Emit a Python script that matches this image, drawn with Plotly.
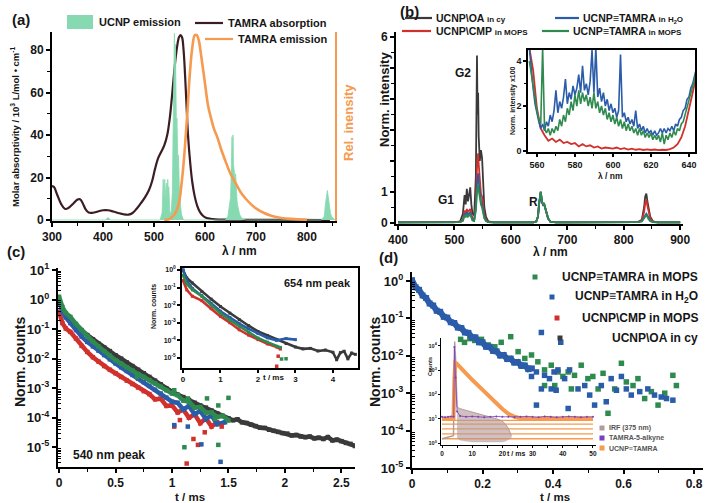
import plotly.graph_objects as go

FONT = "Liberation Sans"
W, H = 709, 503

# ---------------- (a) spectra ----------------
ucnp_wl = [300, 405, 408, 410, 412, 415, 512, 516, 518, 520, 521, 522, 524, 525, 526, 527, 528, 529, 530, 531, 532,
           534, 536, 537, 538, 539, 540, 541, 542, 543, 544, 545, 546, 547, 548, 549, 550, 552, 554, 558,
           640, 645, 648, 650, 651, 652, 653, 654, 655, 656, 657, 658, 659, 660, 661, 662, 663, 664, 666, 668, 672, 680,
           828, 832, 834, 836, 837, 838, 839, 840, 841, 842, 843, 844, 846, 848, 852, 855]
ucnp_rel = [0, 0, 0.01, 0.012, 0.008, 0, 0, 0.04, 0.22, 0.12, 0.22, 0.15, 0.1, 0.2, 0.12, 0.22, 0.14, 0.18, 0.08, 0.05, 0.03,
            0.05, 0.15, 0.3, 0.55, 0.8, 1.01, 0.75, 0.95, 0.6, 0.5, 0.55, 0.45, 0.3, 0.35, 0.2, 0.15, 0.08, 0.03, 0,
            0, 0.02, 0.08, 0.12, 0.2, 0.3, 0.45, 0.35, 0.46, 0.3, 0.26, 0.27, 0.22, 0.25, 0.18, 0.12, 0.1, 0.08, 0.05, 0.03, 0.01, 0,
            0, 0.01, 0.02, 0.08, 0.1, 0.12, 0.15, 0.16, 0.14, 0.12, 0.1, 0.07, 0.04, 0.02, 0.01, 0]

abs_wl = [300, 304, 310, 318, 326, 334, 342, 350, 355, 360, 366, 372, 380, 390, 400, 410, 420, 430, 440, 450, 458,
          466, 474, 482, 490, 496, 502, 508, 514, 520, 526, 531, 536, 541, 545, 549, 552, 555, 558, 561, 564, 567,
          571, 575, 580, 585, 590, 596, 602, 610, 620, 640, 680, 750, 845]
abs_val = [16, 15.5, 12, 7.5, 5.2, 6.0, 7.8, 9.6, 9.8, 8.0, 5.0, 3.5, 3.4, 4.0, 4.6, 4.6, 4.0, 3.3, 2.7, 2.5, 3.3,
           5.3, 7.8, 10.5, 14, 18, 24, 29, 32, 35, 40, 48, 60, 73, 81, 86, 87, 86, 80, 68, 53, 39,
           27, 18, 11, 6.5, 3.8, 2.0, 1.1, 0.6, 0.3, 0.15, 0.1, 0.05, 0.0]

em_wl = [520, 530, 540, 548, 555, 560, 565, 570, 575, 580, 584, 588, 592, 596, 600, 606, 612, 618, 624, 632, 640,
         650, 660, 670, 680, 690, 700, 715, 730, 750, 775, 800]
em_rel = [0, 0.005, 0.03, 0.08, 0.22, 0.37, 0.56, 0.78, 0.93, 1.0, 1.0, 0.97, 0.9, 0.82, 0.74, 0.62, 0.55, 0.49, 0.45,
          0.38, 0.32, 0.25, 0.2, 0.15, 0.115, 0.086, 0.063, 0.039, 0.023, 0.011, 0.005, 0.001]

# ---------------- (b) normalised emission ----------------
b_wl = [400, 500, 510, 515, 518, 520, 522, 524, 526, 528, 530, 532, 535, 538, 540, 541, 542, 543, 545, 547,
        549, 551, 553, 556, 560, 570, 600, 640, 645, 648, 650, 652, 653, 655, 657, 659, 661, 663, 666, 670,
        680, 700, 800, 825, 832, 836, 838, 840, 842, 844, 847, 852, 860, 900]
b_oa = [0.02, 0.02, 0.05, 0.3, 0.9, 0.6, 1.1, 0.7, 0.9, 1.15, 0.6, 0.3, 0.25, 1.5, 5.4, 3.5, 4.2, 2.8, 2.0, 2.35,
        2.1, 1.0, 0.5, 0.2, 0.05, 0.02, 0.02, 0.02, 0.05, 0.2, 0.6, 0.9, 1.0, 0.7, 0.6, 0.62, 0.5, 0.35, 0.15, 0.04,
        0.02, 0.02, 0.02, 0.03, 0.1, 0.5, 0.85, 0.95, 0.7, 0.45, 0.2, 0.05, 0.02, 0.02]
b_cmp = [0.02, 0.02, 0.04, 0.1, 0.4, 0.3, 0.45, 0.35, 0.4, 0.45, 0.3, 0.15, 0.1, 0.6, 1.8, 2.1, 2.25, 1.9, 1.3, 0.95,
         0.85, 0.5, 0.25, 0.1, 0.03, 0.02, 0.02, 0.02, 0.05, 0.2, 0.62, 0.92, 1.0, 0.7, 0.58, 0.6, 0.48, 0.33, 0.14, 0.04,
         0.02, 0.02, 0.02, 0.03, 0.08, 0.35, 0.62, 0.75, 0.55, 0.35, 0.15, 0.04, 0.02, 0.02]
b_h2o = [0.02, 0.02, 0.03, 0.08, 0.3, 0.22, 0.35, 0.25, 0.3, 0.35, 0.22, 0.1, 0.08, 0.5, 1.2, 1.5, 1.6, 1.3, 0.9, 0.7,
         0.6, 0.35, 0.18, 0.07, 0.03, 0.02, 0.02, 0.02, 0.05, 0.2, 0.6, 0.9, 1.0, 0.68, 0.58, 0.6, 0.48, 0.33, 0.14, 0.04,
         0.02, 0.02, 0.02, 0.03, 0.06, 0.18, 0.28, 0.3, 0.24, 0.15, 0.07, 0.03, 0.02, 0.02]
b_mops = [0.02, 0.02, 0.03, 0.07, 0.25, 0.18, 0.28, 0.2, 0.24, 0.27, 0.18, 0.08, 0.06, 0.4, 1.0, 1.2, 1.27, 1.05, 0.75, 0.6,
          0.5, 0.3, 0.15, 0.06, 0.03, 0.02, 0.02, 0.02, 0.05, 0.22, 0.65, 0.95, 1.02, 0.72, 0.6, 0.62, 0.5, 0.34, 0.15, 0.04,
          0.02, 0.02, 0.02, 0.03, 0.05, 0.14, 0.22, 0.25, 0.2, 0.12, 0.06, 0.03, 0.02, 0.02]

# inset: 556-644 nm, intensity x100
bi_wl = list(range(556, 645))
bi_h2o = [4.6, 3.6, 2.8, 2.1, 1.6, 1.3, 1.0, 1.2, 0.9, 1.3, 1.1, 1.6, 1.3, 1.8, 2.7, 1.7, 2.2, 1.9, 2.4, 3.2,
          2.1, 2.6, 2.3, 2.9, 2.5, 2.8, 3.4, 2.6, 3.8, 2.7, 3.0, 2.5, 3.1, 4.5, 2.6, 4.6, 2.4, 2.8, 2.2, 2.6,
          2.0, 2.3, 1.8, 2.1, 1.7, 1.9, 1.5, 1.8, 4.3, 1.5, 1.7, 1.3, 1.5, 1.2, 1.4, 1.1, 1.8, 1.0, 1.2, 0.9,
          1.1, 0.8, 1.0, 0.8, 0.9, 0.7, 0.9, 0.7, 0.8, 1.0, 0.8, 1.0, 0.8, 1.0, 0.9, 1.1, 0.9, 1.2, 1.1, 1.4,
          1.5, 1.8, 1.9, 2.3, 2.4, 2.8, 3.0, 3.4, 3.7]
bi_mops = [4.0, 3.4, 2.9, 2.3, 1.8, 1.4, 1.2, 4.6, 1.0, 0.8, 1.0, 0.7, 1.0, 0.8, 1.1, 0.9, 1.4, 1.1, 1.6, 1.3,
           1.9, 1.6, 2.2, 1.8, 2.5, 2.0, 2.7, 2.1, 2.6, 2.2, 2.5, 2.0, 2.4, 1.9, 2.6, 1.9, 2.2, 1.7, 2.0, 1.6,
           1.9, 1.4, 1.7, 1.3, 1.6, 1.2, 1.5, 1.1, 1.4, 1.0, 1.3, 0.9, 1.2, 0.9, 1.1, 0.8, 1.0, 0.7, 1.0, 0.7,
           0.9, 0.6, 0.8, 0.6, 0.8, 0.5, 0.7, 0.5, 0.7, 0.4, 0.8, 0.3, 0.7, 0.5, 0.8, 0.6, 0.9, 0.7, 1.0, 0.9,
           1.2, 1.3, 1.6, 1.9, 2.2, 2.5, 2.8, 3.2, 3.6]
bi_wl_cmp = list(range(556, 645, 2))
bi_cmp = [4.6, 3.6, 1.9, 1.0, 0.7, 0.45, 0.55, 0.4, 0.5, 0.35, 0.4, 0.3, 0.35, 0.2, 0.3, 0.2, 0.25, 0.15, 0.2, 0.1,
          0.15, 0.12, 0.1, 0.15, 0.08, 0.12, 0.06, 0.1, 0.05, 0.08, 0.04, 0.07, 0.04, 0.06, 0.03, 0.05, 0.04, 0.08,
          0.15, 0.3, 0.6, 1.1, 1.8, 2.6, 3.4]

# ---------------- (c) decays, 540 nm peak ----------------
c_t = [0, 0.03, 0.06, 0.1, 0.15, 0.2, 0.25, 0.3, 0.35, 0.4, 0.45, 0.5, 0.55, 0.6, 0.65, 0.7, 0.75, 0.8, 0.85,
       0.9, 0.95, 1.0, 1.05, 1.1, 1.15, 1.2, 1.25, 1.3, 1.35, 1.4]
c_oa_t = c_t + [1.45, 1.5, 1.54, 1.58, 1.62, 1.66, 1.7, 1.74, 1.78, 1.82, 1.86, 1.9, 1.94, 1.98, 2.02, 2.06, 2.1,
                2.14, 2.18, 2.22, 2.26, 2.3, 2.34, 2.38, 2.42, 2.46, 2.5, 2.54, 2.58, 2.62]
c_oa = [0.85, 0.45, 0.30, 0.20, 0.13, 0.089, 0.063, 0.045, 0.032, 0.024, 0.018, 0.013, 0.010, 0.0074, 0.0056,
        0.0042, 0.0032, 0.0024, 0.0018, 0.00135, 0.0010, 7.6e-4, 6.0e-4, 5.0e-4, 4.0e-4, 3.2e-4, 2.6e-4, 2.2e-4,
        1.74e-4, 1.4e-4, 1.15e-4, 9.5e-5, 8.2e-5, 8.8e-5, 7.0e-5, 6.6e-5, 5.8e-5, 5.2e-5, 4.6e-5, 4.5e-5, 3.9e-5,
        3.6e-5, 3.3e-5, 3.0e-5, 2.9e-5, 2.5e-5, 2.6e-5, 2.3e-5, 2.2e-5, 2.3e-5, 2.0e-5, 2.1e-5, 1.9e-5, 2.2e-5,
        1.7e-5, 1.8e-5, 1.6e-5, 1.4e-5, 1.3e-5, 1.1e-5]
c_cmp = [0.39, 0.16, 0.105, 0.081, 0.048, 0.027, 0.017, 0.0112, 0.0079, 0.0056, 0.0042, 0.0032, 0.0024, 0.0018,
         0.00138, 0.00105, 7.9e-4, 6.3e-4, 4.2e-4, 4.4e-4, 2.5e-4, 2.6e-4, 1.5e-4, 1.9e-4, 1.0e-4, 1.3e-4, 6.5e-5,
         9.5e-5, 5.0e-5, 7.0e-5]
c_h2o_t = c_t + [1.47]
c_h2o = [0.95, 0.40, 0.25, 0.16, 0.093, 0.056, 0.037, 0.026, 0.0186, 0.0132, 0.0095, 0.0069, 0.0051, 0.0038,
         0.0028, 0.0021, 0.0016, 0.0012, 8.9e-4, 6.6e-4, 4.8e-4, 3.5e-4, 3.2e-4, 1.9e-4, 2.5e-4, 1.3e-4, 1.7e-4,
         9.0e-5, 1.2e-4, 6.0e-5, 7.0e-5]
c_mops_t = c_t + [1.45, 1.5]
c_mops = [1.25, 0.56, 0.35, 0.26, 0.15, 0.093, 0.055, 0.038, 0.026, 0.018, 0.0126, 0.0089, 0.0068, 0.0051, 0.004,
          0.003, 0.0024, 0.00186, 0.00145, 0.00112, 8.5e-4, 6.6e-4, 5.8e-4, 3.8e-4, 3.5e-4, 2.2e-4, 2.3e-4, 1.5e-4,
          1.5e-4, 1.05e-4, 1.15e-4, 8.0e-5]
c_cmp_out_t = [1.02, 1.07, 1.13, 1.19, 1.23, 1.29, 1.44]
c_cmp_out = [5e-5, 8.3e-5, 2.8e-6, 1.9e-5, 1.2e-5, 3.2e-5, 5e-5]
c_h2o_out_t = [1.02, 1.14, 1.26, 1.43]
c_h2o_out = [5.6e-5, 5e-5, 1.25e-5, 3.2e-6]
c_mops_out_t = [0.69, 1.02, 1.14, 1.31, 1.41, 1.5, 1.11, 1.41, 1.38]
c_mops_out = [2.4e-3, 8.5e-4, 4.5e-4, 4.5e-4, 2.6e-4, 4.7e-4, 1.0e-5, 1.2e-5, 9e-5]

# inset: 654 nm peak
ci_oa_t = [0, 0.1, 0.25, 0.5, 0.75, 1, 1.25, 1.5, 1.75, 2, 2.25, 2.5, 2.75, 3, 3.2, 3.4, 3.6, 3.8, 4.0, 4.1, 4.2,
           4.3, 4.4, 4.5, 4.6]
ci_oa = [1.0, 0.35, 0.18, 0.059, 0.022, 0.0083, 0.0035, 0.0015, 6.8e-4, 3.2e-4, 1.9e-4, 1.1e-4, 6.6e-5, 4.2e-5,
         3.3e-5, 3.5e-5, 2.5e-5, 2.8e-5, 2.1e-5, 7.9e-6, 2.0e-5, 2.4e-5, 8.9e-6, 1.9e-5, 1.6e-5]
ci_h2o_t = [0, 0.1, 0.25, 0.5, 0.75, 1, 1.25, 1.5, 1.75, 2, 2.25, 2.5, 2.75, 3]
ci_h2o = [1.0, 0.25, 0.089, 0.035, 0.0126, 0.0045, 0.002, 8.9e-4, 4.5e-4, 2.5e-4, 1.4e-4, 1.0e-4, 1.26e-4, 1.1e-4]
ci_cmp_t = [0, 0.1, 0.25, 0.5, 0.75, 1, 1.25, 1.5, 1.75, 2, 2.25, 2.5, 2.6]
ci_cmp = [0.25, 0.074, 0.032, 0.018, 0.0063, 0.0023, 1.0e-3, 4.0e-4, 2.0e-4, 1.1e-4, 6.3e-5, 4.2e-5, 3.2e-5]
ci_mops_t = [0, 0.1, 0.25, 0.5, 0.75, 1, 1.25, 1.5, 1.75, 2, 2.25, 2.5, 2.6]
ci_mops = [0.5, 0.16, 0.074, 0.032, 0.01, 0.0035, 0.0014, 6.3e-4, 2.8e-4, 1.35e-4, 7.9e-5, 4.6e-5, 4.0e-5]
ci_out_t = [2.63, 2.75, 2.54, 2.5]
ci_out = [8.7e-6, 9e-6, 1.26e-5, 3.4e-6]

# ---------------- (d) decays ----------------
d_h2o_t = [i / 100 for i in range(35)]
d_h2o = [1.05, 0.68, 0.58, 0.41, 0.35, 0.25, 0.22, 0.16, 0.15, 0.11, 0.105, 0.079, 0.075, 0.057, 0.055, 0.042,
         0.041, 0.031, 0.031, 0.023, 0.023, 0.0175, 0.0175, 0.0135, 0.0132, 0.0102, 0.0105, 0.0082, 0.0084, 0.0066,
         0.0068, 0.0054, 0.0055, 0.0044, 0.0046]
d_h2o_tail_t = [0.291, 0.31, 0.329, 0.339, 0.353, 0.367, 0.376, 0.39, 0.403, 0.414, 0.422, 0.433, 0.447, 0.353,
                0.367, 0.395, 0.409, 0.443, 0.471, 0.49, 0.504, 0.518, 0.537, 0.551, 0.565, 0.58, 0.594, 0.608,
                0.622, 0.646, 0.669, 0.688, 0.707, 0.722, 0.74]
d_h2o_tail = [0.0069, 0.0056, 0.0046, 0.0028, 0.0037, 0.042, 0.003, 0.00245, 0.0037, 0.0042, 0.023, 0.00245,
              0.0042, 0.00048, 0.0013, 0.0013, 0.0012, 0.00039, 0.0013, 0.0016, 0.00089, 0.00048, 0.0016, 0.00059,
              0.00245, 0.0012, 0.0028, 0.0013, 0.00089, 0.0011, 0.0013, 0.00089, 0.00079, 0.00072, 0.00065]
d_mops_t = [0.138, 0.149, 0.164, 0.178, 0.197, 0.216, 0.235, 0.253, 0.28, 0.301, 0.32, 0.339, 0.357, 0.376, 0.395,
            0.414, 0.428, 0.443, 0.461, 0.48, 0.499, 0.513, 0.528, 0.542, 0.556, 0.575, 0.594, 0.608, 0.627, 0.641,
            0.66, 0.679, 0.698, 0.717, 0.74, 0.75, 0.452, 0.405, 0.376]
d_mops = [0.0275, 0.0229, 0.0288, 0.0257, 0.0275, 0.0195, 0.0174, 0.0229, 0.0324, 0.0129, 0.0085, 0.0105, 0.0069,
          0.0042, 0.0056, 0.0037, 0.0028, 0.0037, 0.003, 0.0056, 0.00245, 0.0028, 0.0013, 0.0034, 0.00029, 0.0013,
          0.0063, 0.002, 0.0016, 0.00245, 0.00072, 0.0011, 0.00048, 0.001, 0.003, 0.0016, 0.0013, 0.0016, 0.0016]

# inset: TCSPC counts
di_irf_t = [0, 3.8, 4.0, 4.2, 4.5, 4.8, 5.0]
di_irf = [1.5, 2, 200, 15000, 3000, 100, 30]
di_irf_env_t = [5.0, 6, 8, 10, 12, 14, 16, 18, 20, 21, 22, 23]
di_irf_hi = [30, 26, 22, 19, 16, 14, 12, 10, 8, 6, 4, 2]
di_irf_lo = [1.6, 1.3, 1.2, 1.1, 1.1, 1.1, 1.1, 1.1, 1.1, 1.2, 1.4, 1.6]
di_tamra_t = [0, 1, 2, 3, 3.9, 4.1, 4.5, 5, 6, 8, 10, 12, 14, 16, 18, 20, 22, 24, 26, 28, 30, 32, 34, 36, 38, 40,
              42, 44, 46, 48, 50]
di_tamra = [12, 11.5, 12, 12.5, 12, 9000, 500, 20, 13, 12, 12.5, 12, 11.5, 12, 12.5, 12, 12, 11.5, 12, 12.5, 12,
            11.5, 12.5, 12, 11.5, 12, 12.5, 12, 11.5, 12, 12]
di_ucnp_t = [0, 2, 3.8, 4.1, 4.4, 4.8, 6, 8, 10, 12, 14, 16, 18, 20, 22, 24, 26, 30, 35, 40, 45, 50]
di_ucnp = [10, 10.5, 10, 400, 2000, 1900, 1300, 700, 400, 230, 130, 75, 42, 25, 16, 12, 10.5, 10, 10.5, 10, 10.5, 10]
di_levels = [8.5, 6, 3.8, 2.4, 1.5]
di_span = [0, 50]

# ---------------- styling ----------------
C_OA, C_CMP, C_H2O, C_MOPS = "#3a3a3a", "#d1302c", "#2a5caa", "#2f8a4f"
C_ABS, C_EM, C_UCNP = "#3b1d23", "#f59a4f", "#86d9b0"
C_IRF, C_TAMRA = "#b39a9a", "#7a3fc0"
INK = "#161616"


def fx(p):
    return p / W


def fy(p):
    return 1 - p / H


def axis(domain, rng, anchor, size=12, **kw):
    d = dict(domain=domain, range=rng, anchor=anchor, showline=True, linecolor="black", linewidth=2,
             ticks="outside", ticklen=4, tickwidth=1.5, tickcolor="black", showgrid=False, zeroline=False,
             automargin=False, tickfont=dict(family=FONT, size=size, color=INK, weight="bold"))
    d.update(kw)
    return d


def minor(vals, ln=3, side="outside"):
    return dict(tickvals=vals, ticks=side, ticklen=ln, tickwidth=1.1, tickcolor="black")


def sup(e):
    return "10<sup>%d</sup>" % e


def log_minor(e0, e1):
    return [m * 10 ** e for e in range(e0, e1) for m in range(2, 10)]


fig = go.Figure()

# (a)
fig.add_trace(go.Scatter(x=ucnp_wl, y=ucnp_rel, xaxis="x", yaxis="y8", mode="lines", fill="tozeroy",
                         line=dict(color=C_UCNP, width=0.8), fillcolor=C_UCNP, showlegend=False))
fig.add_trace(go.Scatter(x=abs_wl, y=abs_val, xaxis="x", yaxis="y", mode="lines",
                         line=dict(color=C_ABS, width=2.2, shape="spline"), showlegend=False))
fig.add_trace(go.Scatter(x=em_wl, y=em_rel, xaxis="x", yaxis="y8", mode="lines",
                         line=dict(color=C_EM, width=2.6, shape="spline"), showlegend=False))

# (b)
for yy, col in [(b_oa, C_OA), (b_cmp, C_CMP), (b_h2o, C_H2O), (b_mops, C_MOPS)]:
    fig.add_trace(go.Scatter(x=b_wl, y=yy, xaxis="x2", yaxis="y2", mode="lines",
                             line=dict(color=col, width=1.8), showlegend=False))
fig.add_trace(go.Scatter(x=bi_wl_cmp, y=bi_cmp, xaxis="x3", yaxis="y3", mode="lines",
                         line=dict(color=C_CMP, width=1.8), showlegend=False))
fig.add_trace(go.Scatter(x=bi_wl, y=bi_h2o, xaxis="x3", yaxis="y3", mode="lines",
                         line=dict(color=C_H2O, width=1.6), showlegend=False))
fig.add_trace(go.Scatter(x=bi_wl, y=bi_mops, xaxis="x3", yaxis="y3", mode="lines",
                         line=dict(color=C_MOPS, width=1.6), showlegend=False))

# (c)
for tt, yy, col in [(c_oa_t, c_oa, C_OA), (c_t, c_cmp, C_CMP), (c_h2o_t, c_h2o, C_H2O), (c_mops_t, c_mops, C_MOPS)]:
    fig.add_trace(go.Scatter(x=tt, y=yy, xaxis="x4", yaxis="y4", mode="lines+markers",
                             line=dict(color=col, width=4.5), marker=dict(symbol="square", size=4.5, color=col),
                             showlegend=False))
for tt, yy, col in [(c_cmp_out_t, c_cmp_out, C_CMP), (c_h2o_out_t, c_h2o_out, C_H2O), (c_mops_out_t, c_mops_out, C_MOPS)]:
    fig.add_trace(go.Scatter(x=tt, y=yy, xaxis="x4", yaxis="y4", mode="markers",
                             marker=dict(symbol="square", size=4.5, color=col), showlegend=False))
for tt, yy, col in [(ci_oa_t, ci_oa, C_OA), (ci_cmp_t, ci_cmp, C_CMP), (ci_h2o_t, ci_h2o, C_H2O), (ci_mops_t, ci_mops, C_MOPS)]:
    fig.add_trace(go.Scatter(x=tt, y=yy, xaxis="x5", yaxis="y5", mode="lines+markers",
                             line=dict(color=col, width=2.6), marker=dict(symbol="square", size=3, color=col),
                             showlegend=False))
fig.add_trace(go.Scatter(x=ci_out_t, y=ci_out, xaxis="x5", yaxis="y5", mode="markers",
                         marker=dict(symbol="square", size=3.5, color=[C_MOPS, C_MOPS, C_CMP, C_CMP]),
                         showlegend=False))

# (d)
fig.add_trace(go.Scatter(x=d_mops_t, y=d_mops, xaxis="x6", yaxis="y6", mode="markers",
                         marker=dict(symbol="square", size=5.5, color=C_MOPS), showlegend=False))
fig.add_trace(go.Scatter(x=d_h2o_t, y=d_h2o, xaxis="x6", yaxis="y6", mode="lines+markers",
                         line=dict(color=C_H2O, width=6), marker=dict(symbol="square", size=6, color=C_H2O),
                         showlegend=False))
fig.add_trace(go.Scatter(x=d_h2o_tail_t, y=d_h2o_tail, xaxis="x6", yaxis="y6", mode="markers",
                         marker=dict(symbol="square", size=5.5, color=C_H2O), showlegend=False))
lvl_x, lvl_y = [], []
for lv in di_levels:
    lvl_x += [di_span[0], di_span[1], None]
    lvl_y += [lv, lv, None]
fig.add_trace(go.Scatter(x=lvl_x, y=lvl_y, xaxis="x7", yaxis="y7", mode="lines",
                         line=dict(color=C_EM, width=1.3), showlegend=False))
fig.add_trace(go.Scatter(x=di_irf_env_t, y=di_irf_lo, xaxis="x7", yaxis="y7", mode="lines",
                         line=dict(color="rgba(179,154,154,0.5)", width=0.5), showlegend=False))
fig.add_trace(go.Scatter(x=di_irf_env_t, y=di_irf_hi, xaxis="x7", yaxis="y7", mode="lines", fill="tonexty",
                         fillcolor="rgba(179,150,150,0.6)", line=dict(color=C_IRF, width=1), showlegend=False))
fig.add_trace(go.Scatter(x=di_irf_t, y=di_irf, xaxis="x7", yaxis="y7", mode="lines",
                         line=dict(color=C_IRF, width=1.4), showlegend=False))
fig.add_trace(go.Scatter(x=di_ucnp_t, y=di_ucnp, xaxis="x7", yaxis="y7", mode="lines",
                         line=dict(color=C_EM, width=4), showlegend=False))
fig.add_trace(go.Scatter(x=di_tamra_t, y=di_tamra, xaxis="x7", yaxis="y7", mode="lines+markers",
                         line=dict(color=C_TAMRA, width=0.8), marker=dict(size=2, color=C_TAMRA), showlegend=False))

layout = dict(
    width=W, height=H, margin=dict(l=0, r=0, t=0, b=0, autoexpand=False),
    paper_bgcolor="white", plot_bgcolor="rgba(0,0,0,0)", showlegend=False,
    font=dict(family=FONT, color=INK),
    # (a)
    xaxis=axis([fx(52), fx(335)], [300, 855], "y", tickvals=[300, 400, 500, 600, 700, 800],
               minor=minor([350, 450, 550, 650, 750, 850])),
    yaxis=axis([fy(221), fy(32)], [-0.47, 88.47], "x", tickvals=[0, 20, 40, 60, 80],
               minor=minor([10, 30, 50, 70])),
    yaxis8=dict(overlaying="y", side="right", anchor="x", range=[-0.0054, 1.017], showline=True,
                linecolor=C_EM, linewidth=2.2, showticklabels=False, ticks="", showgrid=False, zeroline=False,
                automargin=False),
    # (b)
    xaxis2=axis([fx(396), fx(683)], [396.5, 905], "y2", tickvals=[400, 500, 600, 700, 800, 900],
                minor=minor([450, 550, 650, 750, 850])),
    yaxis2=axis([fy(224), fy(32)], [-0.032, 6.16], "x2", tickvals=[0, 1, 2, 3, 4, 5, 6],
                ticktext=["0", "1", "", "", "", "", "6"], minor=minor([0.5, 1.5, 2.5, 3.5, 4.5, 5.5])),
    xaxis3=axis([fx(528), fx(695)], [555.3, 643.2], "y3", size=9, tickvals=[560, 580, 600, 620, 640],
                mirror=True, linewidth=1.5, ticklen=3, minor=minor([570, 590, 610, 630], 2)),
    yaxis3=axis([fy(152), fy(50)], [-0.05, 4.5], "x3", size=9, tickvals=[0, 2, 4], mirror=True,
                linewidth=1.5, ticklen=3, minor=minor([1, 3], 2)),
    # (c)
    xaxis4=axis([fx(58), fx(355)], [-0.009, 2.62], "y4", size=12, tickvals=[0, 0.5, 1, 1.5, 2, 2.5],
                minor=minor([0.25, 0.75, 1.25, 1.75, 2.25])),
    yaxis4=axis([fy(467), fy(268)], [-5.67, 1.07], "x4", type="log", size=13,
                tickvals=[10 ** e for e in range(-5, 2)], ticktext=[sup(e) for e in range(-5, 2)],
                minor=minor(log_minor(-6, 1), 2.5, "inside")),
    xaxis5=axis([fx(182), fx(358)], [-0.027, 4.67], "y5", size=8, tickvals=[0, 1, 2, 3, 4], mirror=True,
                linewidth=1.5, ticklen=3, ticktext=["0", "1", "2", "3", "4"]),
    yaxis5=axis([fy(368), fy(268)], [-5.57, 0.11], "x5", type="log", size=7, mirror=True, linewidth=1.5,
                ticklen=3, tickvals=[10 ** e for e in range(-5, 1)], ticktext=[sup(e) for e in range(-5, 1)]),
    # (d)
    xaxis6=axis([fx(412), fx(703)], [0, 0.8255], "y6", size=12, tickvals=[0, 0.2, 0.4, 0.6, 0.8],
                ticktext=["0", "0.2", "0.4", "0.6", "0.8"], minor=minor([0.1, 0.3, 0.5, 0.7])),
    yaxis6=axis([fy(468), fy(272)], [-5.0, 0.24], "x6", type="log", size=13,
                tickvals=[10 ** e for e in range(-5, 1)], ticktext=[sup(e) for e in range(-5, 1)],
                minor=minor(log_minor(-5, 1), 2.5, "inside")),
    xaxis7=axis([fx(441), fx(596)], [-0.33, 51], "y7", size=6.5, tickvals=[0, 10, 20, 30, 40, 50],
                linewidth=1.2, ticklen=2, tickwidth=1, minor=minor([5, 15, 25, 35, 45], 1.5)),
    yaxis7=axis([fy(445), fy(338)], [-0.08, 4.32], "x7", type="log", size=5.5, linewidth=1.2, ticklen=2,
                tickwidth=1, tickvals=[10 ** e for e in range(0, 5)], ticktext=[sup(e) for e in range(0, 5)]),
)
fig.update_layout(**layout)

ann = []


def text(px, py, s, size=12, color=INK, xanchor="center", angle=0, bold=True):
    ann.append(dict(x=fx(px), y=fy(py), xref="paper", yref="paper", text=s, showarrow=False,
                    xanchor=xanchor, yanchor="middle", textangle=angle,
                    font=dict(family=FONT, size=size, color=color, weight="bold" if bold else "normal")))


# panel letters
text(21, 20, "(a)", 15)
text(409, 12, "(b)", 15)
text(16, 252, "(c)", 15)
text(388, 257, "(d)", 15)

# (a) labels and key
text(15, 127, "Molar absorptivity / 10<sup>3</sup> L/mol \u2022 cm<sup>-1</sup>", 9.5, angle=-90)
text(348, 123, "Rel. inensity", 13, color=C_EM, angle=-90)
text(240, 251, "\u03bb / nm", 12)
text(97, 22, "UCNP emission", 11, xanchor="left")
text(226, 23, "TAMRA absorption", 11, xanchor="left")
text(236, 39, "TAMRA emission", 11, xanchor="left")

# (b) labels and key
text(385, 100, "Norm. intensity", 13, angle=-90)
text(550, 252, "\u03bb / nm", 12)
text(463, 73, "G2", 12)
text(446, 200, "G1", 12)
text(533, 202, "R", 12)
text(513, 101, "Norm. intensity x100", 7, angle=-90)
text(610, 176, "\u03bb / nm", 8.5)
SMALL = "<span style='font-size:8px'>%s</span>"
text(434, 18, "UCNP\\OA " + SMALL % "in cy", 10.5, xanchor="left")
text(434, 31, "UCNP\\CMP " + SMALL % "in MOPS", 10.5, xanchor="left")
text(581, 18, "UCNP\u2261TAMRA " + SMALL % "in H<sub>2</sub>O", 10.5, xanchor="left")
text(571, 31, "UCNP\u2261TAMRA " + SMALL % "in MOPS", 10.5, xanchor="left")

# (c)
text(20, 362, "Norm. counts", 14, angle=-90)
text(190, 496.5, "t / ms", 11.5)
text(109, 455, "540 nm peak", 12)
text(353, 283, "654 nm peak", 11, xanchor="right")
text(153, 307, "Norm. counts", 7, angle=-90)
text(273, 377, "t / ms", 8)

# (d)
text(375, 362, "Norm. counts", 14, angle=-90)
text(555, 496.5, "t / ms", 11.5)
text(700, 277, "UCNP\u2261TAMRA in MOPS", 12, xanchor="right")
text(700, 297, "UCNP\u2261TAMRA in H<sub>2</sub>O", 12, xanchor="right")
text(700, 318, "UCNP\\CMP in MOPS", 12, xanchor="right")
text(700, 338, "UCNP\\OA in cy", 12, xanchor="right")
text(430, 366, "Counts", 5.5, angle=-90)
text(516, 453, "t / ms", 7)
text(607, 428, "IRF (375 nm)", 7, color="#555555", xanchor="left")
text(607, 438, "TAMRA-5-alkyne", 7, color="#555555", xanchor="left")
text(607, 448, "UCNP\u2261TAMRA", 7, color="#555555", xanchor="left")

shapes = []


def line_key(x0, x1, py, col, w=2.2):
    shapes.append(dict(type="line", xref="paper", yref="paper", x0=fx(x0), x1=fx(x1), y0=fy(py), y1=fy(py),
                       line=dict(color=col, width=w)))


def box_key(cx, cy, half, col):
    shapes.append(dict(type="rect", xref="paper", yref="paper", x0=fx(cx - half), x1=fx(cx + half),
                       y0=fy(cy + half), y1=fy(cy - half), fillcolor=col, line=dict(width=0)))


shapes.append(dict(type="rect", xref="paper", yref="paper", x0=fx(67), x1=fx(93), y0=fy(29), y1=fy(15),
                   fillcolor=C_UCNP, line=dict(width=0)))
line_key(195, 223, 23, C_ABS)
line_key(205, 233, 39, C_EM)
line_key(405, 432, 18, C_OA)
line_key(402, 431, 31, C_CMP)
line_key(555, 579, 18, C_H2O)
line_key(542, 569, 31, C_MOPS)
box_key(535, 277, 2.5, C_MOPS)
box_key(552, 297, 2.5, C_H2O)
box_key(557, 318, 2.5, C_CMP)
box_key(560, 338, 2.5, C_OA)
box_key(602, 428, 2.5, C_IRF)
box_key(602, 438, 2.5, C_TAMRA)
box_key(602, 448, 2.5, C_EM)

fig.update_layout(annotations=ann, shapes=shapes)
fig.write_html("out.html")
